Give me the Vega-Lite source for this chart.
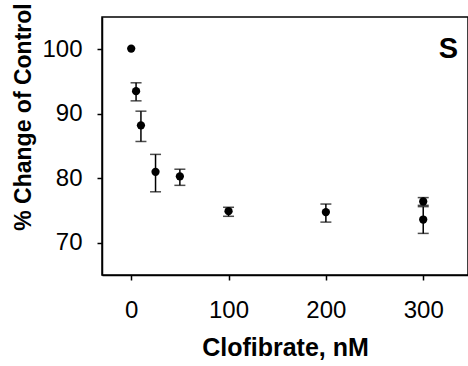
{
  "$schema": "https://vega.github.io/schema/vega-lite/v6.json",
  "width": 366,
  "height": 258,
  "autosize": {"type": "none"},
  "padding": {"left": 102, "top": 17, "right": 0, "bottom": 91},
  "background": "white",
  "config": {
    "font": "Liberation Sans",
    "view": {"stroke": "black", "strokeWidth": 1.5},
    "axis": {
      "domainColor": "black", "domainWidth": 1.5,
      "tickColor": "black", "tickWidth": 1.5, "tickSize": 5,
      "grid": false,
      "labelFont": "Liberation Sans", "labelFontSize": 24, "labelColor": "black",
      "labelFlush": false, "labelOverlap": false,
      "titleFont": "Liberation Sans", "titleFontSize": 25, "titleFontWeight": "bold", "titleColor": "black"
    }
  },
  "data": {
    "values": [
      {"x": 0, "y": 100.1, "lo": null, "hi": null},
      {"x": 5, "y": 93.5, "lo": 92.0, "hi": 94.8},
      {"x": 10, "y": 88.2, "lo": 85.7, "hi": 90.4},
      {"x": 25, "y": 81.0, "lo": 77.9, "hi": 83.7},
      {"x": 50, "y": 80.3, "lo": 78.9, "hi": 81.4},
      {"x": 100, "y": 74.9, "lo": 74.1, "hi": 75.5},
      {"x": 200, "y": 74.75, "lo": 73.2, "hi": 76.0},
      {"x": 300, "y": 76.4, "lo": 75.8, "hi": 77.0},
      {"x": 300, "y": 73.6, "lo": 71.45, "hi": 75.6}
    ]
  },
  "layer": [
    {
      "transform": [{"filter": "datum.lo != null"}],
      "mark": {"type": "rule", "color": "black", "strokeWidth": 1.5},
      "encoding": {
        "x": {"field": "x", "type": "quantitative", "scale": {"domain": [-30, 346], "nice": false, "zero": false},
              "axis": {"values": [0, 100, 200, 300], "labelBaseline": "alphabetic", "labelPadding": 37, "titleBaseline": "alphabetic", "titleY": 80, "titleX": 183, "titleAlign": "center"},
              "title": "Clofibrate, nM"},
        "y": {"field": "lo", "type": "quantitative", "scale": {"domain": [65, 105], "nice": false, "zero": false},
              "axis": {"values": [70, 80, 90, 100], "labelPadding": 15, "labelAlign": "right", "labelBaseline": "middle", "titleBaseline": "alphabetic", "titleX": -71.5, "titleY": 99.5, "titleAlign": "center", "titleAngle": -90, "titleFontSize": 23},
              "title": "% Change of Control"},
        "y2": {"field": "hi"}
      }
    },
    {
      "transform": [{"filter": "datum.lo != null"}],
      "mark": {"type": "tick", "orient": "horizontal", "color": "black", "thickness": 1.5, "size": 11},
      "encoding": {
        "x": {"field": "x", "type": "quantitative", "title": "Clofibrate, nM"},
        "y": {"field": "lo", "type": "quantitative", "title": "% Change of Control"}
      }
    },
    {
      "transform": [{"filter": "datum.hi != null"}],
      "mark": {"type": "tick", "orient": "horizontal", "color": "black", "thickness": 1.5, "size": 11},
      "encoding": {
        "x": {"field": "x", "type": "quantitative", "title": "Clofibrate, nM"},
        "y": {"field": "hi", "type": "quantitative", "title": "% Change of Control"}
      }
    },
    {
      "mark": {"type": "circle", "size": 68, "color": "black", "opacity": 1},
      "encoding": {
        "x": {"field": "x", "type": "quantitative", "title": "Clofibrate, nM"},
        "y": {"field": "y", "type": "quantitative", "title": "% Change of Control"}
      }
    },
    {
      "data": {"values": [{"label": "S", "x": 326, "y": 100}]},
      "mark": {"type": "text", "fontSize": 29, "fontWeight": "bold", "font": "Liberation Sans", "color": "black"},
      "encoding": {
        "x": {"field": "x", "type": "quantitative", "title": "Clofibrate, nM"},
        "y": {"field": "y", "type": "quantitative", "title": "% Change of Control"},
        "text": {"field": "label"}
      }
    }
  ]
}
